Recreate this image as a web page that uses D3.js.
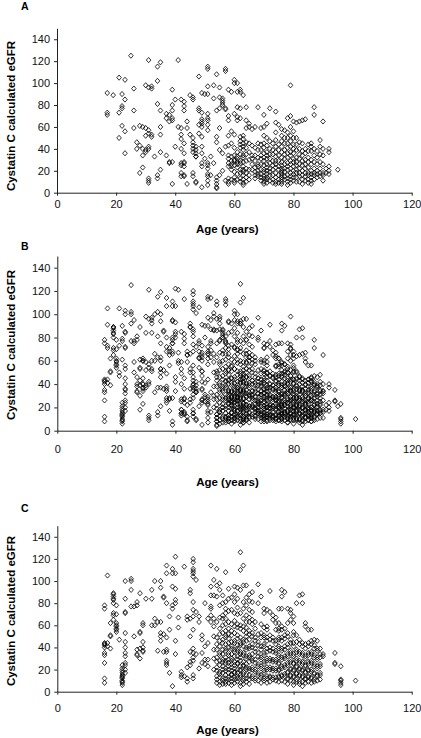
<!DOCTYPE html>
<html><head><meta charset="utf-8">
<script src="https://cdn.jsdelivr.net/npm/d3@7"></script>
<style>body{margin:0;background:#fff} svg{display:block} text{font-family:"Liberation Sans",Arial,sans-serif}</style>
</head><body><svg id="c" width="421" height="738"></svg>
<script>
const xTicks=[0,20,40,60,80,100,120];
const yTicks=[0,20,40,60,80,100,120,140];
const panelLabels=["A","B","C"];
const xTitle="Age (years)";
const yTitle="Cystatin C calculated eGFR";

// Panel A: [age, [eGFR values]]
const groupA=[
[17,[91,73,71]],[19,[89]],[21,[105,73,50]],[22,[90,79,77,61]],[23,[103,85,56,36]],[25,[125]],
[26,[95,75,59]],[27,[46,40]],[28,[61,43,18]],[29,[60,40,34,23]],[30,[98,59,52,39,37]],
[31,[121,96,57,54,42,40,13,11,9]],[32,[97,95,53,51]],[33,[33]],[34,[115,102,81,16,13]],
[35,[119,75,60,53,37,21]],[37,[68,72,34]],[38,[71,65,28,27]],[39,[94,80,75,68,66,28,8]],
[40,[85,42]],[41,[121,60]],[42,[85,59,53,49,40,27,25,18,15]],[43,[83,79,75,45,36,28,27,24,16,15]],
[44,[65,59,8]],[45,[89,53]],[46,[87,85,50,46,43,40,37,18,15]],[47,[42,39,36,33,33,10,9]],
[48,[106,77,75,62,54]],[49,[91,73,67,65,63,60,51,42,36,27,24,5]],[50,[90,31]],
[51,[115,113,97,90,72,68,66,62,57,27,25,22,17,15,11,7]],[52,[33,16]],[53,[98,86,27]],
[54,[108,75,51,46,14,11,8,5,4]],[55,[96,87,77,59,39,16]],[56,[86,84,82,80,36,20]],
[57,[113,111,77,76,42,11]],[58,[94,70,66,52,43,34,31,27,24,13,10,8]],
[59,[92,56,45,33,29,26,24,21,12]],[60,[103,100,72,53,41,34,30,29,25,19,14,11,9]],
[61,[100,92,78,69,66,37,33,31,28,26,23,17,12]],[62,[94,92,77,68,51,47,44,41,35,29,27,21,18,13,10]],
[63,[89,52,49,45,42,39,34,32,28,24,21,19,16,12,9,7]],[64,[78,66,59,46,41,35,29,22,18,14,10]],
[65,[63,60,45,37,30,21,16,12]],[66,[58,43,34,31,26,21]],[67,[60,41,34,29,23,19,16,13]],
[68,[78,45,39,32,26,24,20,17,15]],[69,[59,44,39,34,31,26,21,17,14,11]],
[70,[71,60,52,45,41,36,32,29,25,21,19,15,13,10,8]],[71,[63,50,43,37,34,31,26,23,20,17,14,12,9]],
[72,[77,47,40,35,31,27,22,19,16,11]],[73,[45,39,35,29,25,21,16,12,9]],
[74,[74,64,55,48,42,37,33,29,26,23,18,14,10,8]],[75,[62,44,39,34,29,24,21,16,12,9]],
[76,[58,52,47,42,37,32,28,25,22,20,18,16,14,12,10,8]],[77,[57,50,45,39,35,31,26,22,19,15,12]],
[78,[68,55,50,45,41,36,32,27,24,21,16,13,10,7]],[79,[98,70,60,52,47,42,37,34,29,26,22,18,15,12,9]],
[80,[65,56,50,44,40,36,31,28,24,20,17,14,11]],[81,[64,50,44,39,32,28,25,21,18,14,10]],
[82,[65,46,40,35,31,26,22,18,15,10]],[83,[66,45,38,34,29,25,20,16,12,8]],
[84,[67,40,36,30,26,22,18,15,11]],[85,[44,38,32,28,23,18,16,12,9]],
[86,[45,42,38,30,26,20,17,14,11,8]],[87,[78,71,40,34,28,22,18,16,12]],
[88,[38,32,26,20,17,14]],[89,[48,42,35,28,22,18,15]],[90,[65,40,34,26,18,16,11]],
[91,[22,18]],[92,[40,37,24,20,17]],[95,[21]]
];

// Panel C: [age, [eGFR values]]
const groupC=[
[16,[78,75,44,43,42,40,35,33,26,12,8]],[17,[105,44,41]],[18,[62,51,50,39]],
[19,[89,88,86,84,83,80,71,69,65]],[20,[78,70,62,60,59,57,56,54]],[21,[47]],
[22,[24,21,19,17,15,14,13,12,10,9,8,6]],[23,[100,84,72,71,53,45,40,35,32,26,24,20,17]],
[25,[102,100,92,77]],[26,[77,50]],[27,[81,78,38,34,33]],[28,[89,54,53,39,30]],
[29,[62,60,45,40,37,36]],[30,[84]],[32,[92,84,60]],[33,[100,66,60]],[34,[63,37]],
[35,[100,94,63,53,50,46]],[36,[86,85,52,36]],[37,[114,107,80,49,38,36,28,26,24]],
[38,[68,56,17]],[39,[111,107,95,78,75,5]],[40,[122,107,93,83,80,46,34]],[41,[67,58]],
[42,[18,15,13]],[43,[113,14]],[44,[68,65,22,12,9]],[45,[92,89,66,50,36,27,24]],
[46,[120,117,111,109,107,104,81,74,68,56,39,35,31,28,15,12]],[47,[101,72,34]],
[48,[68,63,21]],[49,[51,47,35,26]],[50,[80,41,29,25]],[51,[66,44,29,23]],
[52,[114,95,87,77,75,69,63]],[53,[101,87,66,59,50,38,30,20]],
[54,[111,96,86,63,49,43,38,31,27,22,19,14,11,8]],
[55,[98,92,78,67,57,52,46,41,35,33,28,24,18,16,13,9,6]],
[56,[87,80,69,66,60,53,47,44,38,34,29,27,23,20,17,12,10,7]],
[57,[108,81,75,71,66,61,55,51,49,43,39,37,31,28,26,21,19,15,12,9,7]],
[58,[93,84,73,63,57,52,48,44,40,35,33,29,26,23,20,17,13,11,8]],
[59,[85,74,61,55,51,45,41,39,34,30,28,25,22,19,16,15,12,9,6]],
[60,[95,88,81,71,64,59,53,46,44,38,36,32,27,24,21,18,17,13,11,8]],
[61,[94,84,76,70,61,58,51,48,42,39,37,32,29,26,25,20,17,14,12,9]],
[62,[126,110,92,71,60,57,49,44,42,36,34,31,28,23,20,19,15,13,8,5]],
[63,[114,96,81,75,66,59,55,47,45,41,35,33,27,24,23,18,16,12,10,7]],
[64,[96,85,78,69,63,58,53,50,46,40,38,32,30,25,22,20,15,12,9]],
[65,[88,82,74,67,63,55,52,47,41,39,33,31,27,21,19,15,11,7]],
[66,[90,81,72,65,61,53,50,43,40,34,30,28,22,20,14,12]],
[67,[63,57,49,46,39,36,29,26,20,18,12,10]],
[68,[97,80,52,45,42,35,32,25,23,17,15,10]],
[69,[86,61,53,49,41,38,31,29,23,21,15,13,8]],
[70,[75,71,58,51,49,43,41,35,33,27,25,19,17,12,10]],
[71,[74,59,56,49,46,39,36,30,28,22,20,14,12,8]],
[72,[91,72,51,47,40,37,30,28,22,20,14,13,9]],
[73,[69,65,49,46,39,36,29,27,21,19,13,11]],
[74,[67,62,56,46,43,37,35,29,27,21,19,13,10]],
[75,[75,62,57,55,49,47,41,39,33,31,26,25,20,19,14,13,9]],
[76,[92,86,75,59,56,49,46,39,37,31,29,23,21,15,14,10]],
[77,[90,57,51,48,41,38,32,30,24,22,16,14,9]],
[78,[75,62,53,50,43,40,34,32,26,24,18,17,12,11,7]],
[79,[74,71,65,47,44,37,35,29,27,21,20,15,14,10]],
[80,[68,62,54,51,44,41,34,32,26,25,20,19,14,13,9,6]],
[81,[80,51,45,38,36,30,28,23,22,17,16,11,9]],
[82,[87,47,43,36,34,28,26,21,20,15,14,9,7]],
[83,[88,80,44,41,35,33,27,25,20,19,14,13,9,5]],
[84,[62,59,43,39,32,30,24,23,18,17,12,11,8]],
[85,[56,44,41,35,33,27,25,20,19,14,13,9]],
[86,[56,46,43,36,34,28,26,20,18,13,12,8]],
[87,[47,42,39,33,31,25,23,17,16,11,9]],
[88,[46,39,37,31,29,23,21,15,14,10]],
[89,[39,34,31,25,23,17,15,11]],[90,[34,32]],[94,[35,26,25]],[96,[23,11,10,8,6]],[101,[10]]
];

function flatten(g){const out=[];g.forEach(([age,vals])=>vals.forEach(v=>out.push([age,v])));return out;}
const pointsA=flatten(groupA), pointsC=flatten(groupC);
const pointsB=pointsA.concat(pointsC); // B = whole cohort

const layouts=[
 {data:pointsA,left:57,right:411.7,bottom:192.7,top:28.3,labelY:10,tickPad:4.3,titleY:232.5,yTitleCY:116},
 {data:pointsB,left:57.3,right:411.7,bottom:430.7,top:256,labelY:250,tickPad:11.2,titleY:486,yTitleCY:345},
 {data:pointsC,left:57.3,right:411.7,bottom:691.7,top:525.7,labelY:512,tickPad:10,titleY:734,yTitleCY:611}
];

const svg=d3.select("#c");
const diamond="M0,-2.6L2.3,0L0,2.6L-2.3,0Z";
const axisColor="#222";

layouts.forEach((L,i)=>{
  const x=d3.scaleLinear().domain([0,120]).range([L.left,L.right]);
  const y=d3.scaleLinear().domain([0,150]).range([L.bottom,L.top]);
  const g=svg.append("g");

  const gx=g.append("g").attr("transform",`translate(0,${L.bottom})`)
    .call(d3.axisBottom(x).tickValues(xTicks).tickSize(3).tickSizeOuter(0).tickPadding(L.tickPad));
  const gy=g.append("g").attr("transform",`translate(${L.left},0)`)
    .call(d3.axisLeft(y).tickValues(yTicks).tickSize(3).tickSizeOuter(0).tickPadding(4));
  [gx,gy].forEach(a=>{
    a.selectAll("path,line").attr("stroke",axisColor).attr("stroke-width",1);
    a.selectAll("text").attr("font-size",11).attr("fill","#111")
      .attr("font-family",'"Liberation Sans",Arial,sans-serif');
  });

  g.append("g").selectAll("path").data(L.data).join("path")
    .attr("d",diamond)
    .attr("transform",d=>`translate(${x(d[0])},${y(d[1])})`)
    .attr("fill","none").attr("stroke","#000").attr("stroke-width",0.8);

  g.append("text").attr("x",21).attr("y",L.labelY).attr("font-size",10.5).attr("font-weight","bold")
    .text(panelLabels[i]);
  g.append("text").attr("x",(L.left+L.right)/2-7).attr("y",L.titleY).attr("text-anchor","middle")
    .attr("font-size",11.5).attr("font-weight","bold").text(xTitle);
  g.append("text").attr("transform",`translate(14.5,${L.yTitleCY}) rotate(-90)`).attr("text-anchor","middle")
    .attr("font-size",11.5).attr("font-weight","bold").text(yTitle);
});
</script></body></html>
